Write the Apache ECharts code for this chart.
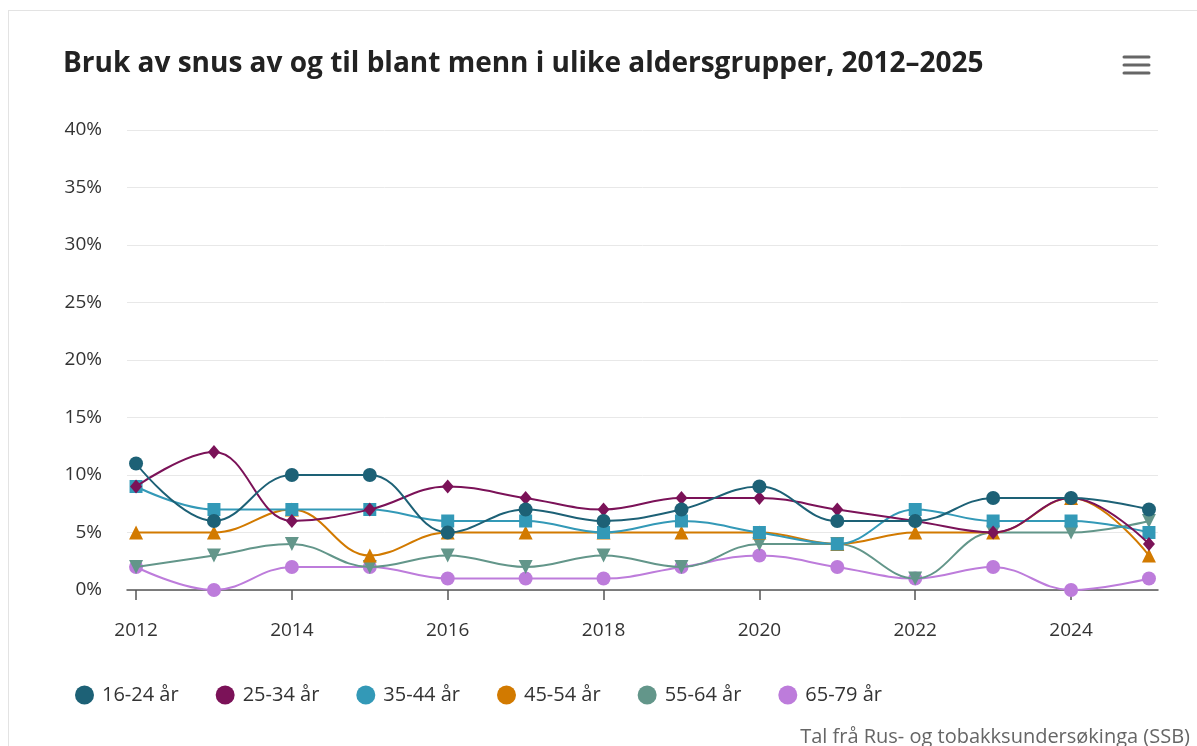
<!DOCTYPE html>
<html>
<head>
<meta charset="utf-8">
<script src="https://cdn.jsdelivr.net/npm/echarts@6/dist/echarts.min.js"></script>
<style>
html,body{margin:0;padding:0;background:#fff;overflow:hidden;}
#frame{position:absolute;left:8px;top:10px;width:1300px;height:800px;border-left:1px solid #e3e3e3;border-top:1px solid #e3e3e3;}
#chart{position:absolute;left:0;top:0;width:1197px;height:746px;}
</style>
</head>
<body>
<div id="frame"></div>
<div id="chart"></div>
<script>
const years = [2012,2013,2014,2015,2016,2017,2018,2019,2020,2021,2022,2023,2024,2025];
const xTickYears = [2012,2014,2016,2018,2020,2022,2024];
const seriesNames = ['16-24 år','25-34 år','35-44 år','45-54 år','55-64 år','65-79 år'];
const v16_24 = [11,6,10,10,5,7,6,7,9,6,6,8,8,7];
const v25_34 = [9,12,6,7,9,8,7,8,8,7,6,5,8,4];
const v35_44 = [9,7,7,7,6,6,5,6,5,4,7,6,6,5];
const v45_54 = [5,5,7,3,5,5,5,5,5,4,5,5,8,3];
const v55_64 = [2,3,4,2,3,2,3,2,4,4,1,5,5,6];
const v65_79 = [2,0,2,2,1,1,1,2,3,2,1,2,0,1];
const colors = ['#1d6176','#7b1258','#3399b7','#d27a00','#63968a','#bd7cdb'];
const symbols = ['circle','diamond','rect','triangle','triangle','circle'];
const rotations = [0,0,0,0,180,0];
const sizes = [14,[12,14],13,14,14,14];
const allValues = [v16_24,v25_34,v35_44,v45_54,v55_64,v65_79];
const titleText = 'Bruk av snus av og til blant menn i ulike aldersgrupper, 2012–2025';
const creditText = 'Tal frå Rus- og tobakksundersøkinga (SSB)';

const FONT = '"Open Sans", "Noto Sans", sans-serif';
const chart = echarts.init(document.getElementById('chart'), null, {renderer:'canvas'});
const pad = 0.116;

const series = seriesNames.map((name,i)=>({
  name: name,
  type: 'line',
  smooth: 0.4,
  data: years.map((y,j)=>[y, allValues[i][j]]),
  symbol: symbols[i],
  symbolRotate: rotations[i],
  symbolSize: sizes[i],
  showAllSymbol: true,
  lineStyle: {width: 2, color: colors[i]},
  itemStyle: {color: colors[i]},
  z: 10 - i
}));

chart.setOption({
  animation: false,
  textStyle: {fontFamily: FONT},
  title: {
    text: titleText,
    left: 58, top: 45,
    textStyle: {fontFamily: FONT, fontSize: 28, fontWeight: 'bold', color: '#222'}
  },
  grid: {left: 127, right: 39, top: 130, bottom: 156, containLabel: false},
  xAxis: {
    type: 'value',
    min: 2012 - pad, max: 2025 + pad,
    splitLine: {show: false},
    axisLine: {show: true, onZero: false, lineStyle: {color: '#555', width: 1.5}},
    axisTick: {show: true, customValues: xTickYears, length: 10, lineStyle: {color: '#555', width: 1.5}},
    axisLabel: {customValues: xTickYears, formatter: v => String(Math.round(v)), color: '#333', fontSize: 19, margin: 31, fontFamily: FONT}
  },
  yAxis: {
    type: 'value',
    min: 0, max: 40, interval: 5,
    axisLine: {show: false},
    axisTick: {show: false},
    axisLabel: {formatter: '{value}%', color: '#333', fontSize: 19, margin: 25, fontFamily: FONT},
    splitLine: {lineStyle: {color: '#e8e8e8', width: 1}}
  },
  legend: {
    left: 70, top: 680,
    icon: 'circle',
    itemWidth: 19, itemHeight: 19,
    itemGap: 37,
    textStyle: {color: '#333', fontSize: 20, fontFamily: FONT, padding: [0,0,0,3]},
    data: seriesNames
  },
  color: colors,
  graphic: [
    {type:'text', right: 7, top: 727, style:{text: creditText, fill:'#666', font: '20px ' + FONT}},
    {type:'line', shape:{x1:1124,y1:57,x2:1149,y2:57}, style:{stroke:'#666', lineWidth:3, lineCap:'round'}},
    {type:'line', shape:{x1:1124,y1:65,x2:1149,y2:65}, style:{stroke:'#666', lineWidth:3, lineCap:'round'}},
    {type:'line', shape:{x1:1124,y1:73,x2:1149,y2:73}, style:{stroke:'#666', lineWidth:3, lineCap:'round'}}
  ],
  series: series
});
</script>
</body>
</html>
